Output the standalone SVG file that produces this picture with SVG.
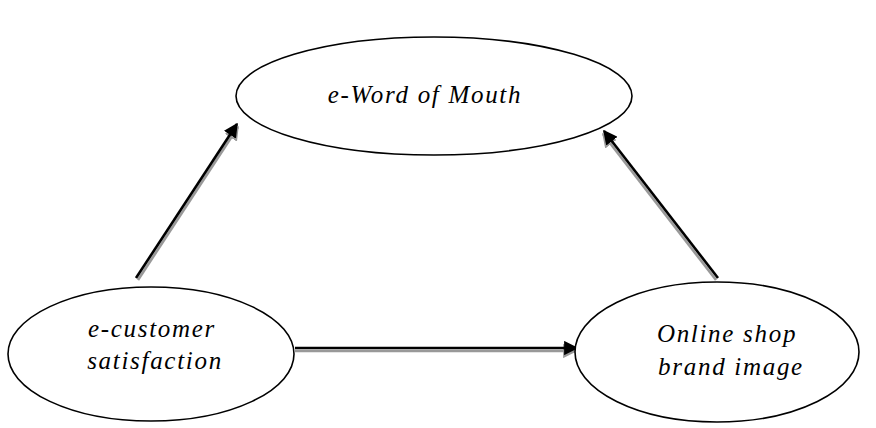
<svg xmlns="http://www.w3.org/2000/svg" width="876" height="428" viewBox="0 0 876 428">
<style>
.node{fill:#fff;stroke:#000;stroke-width:1.6}
.lbl{font-family:"Liberation Serif","Times New Roman",serif;font-style:italic;font-size:25px;letter-spacing:1.7px;fill:#000;text-anchor:middle}
.ln{stroke:#000;stroke-width:2.6;fill:none}
.sh{stroke:#999;stroke-width:2.6;fill:none}
</style>
<defs>
<marker id="ah" viewBox="0 0 10 10" refX="9" refY="5" markerWidth="5.5" markerHeight="5.5" orient="auto" markerUnits="strokeWidth">
<path d="M0,0 L10,5 L0,10 z" fill="#000"/>
</marker>
<marker id="ahs" viewBox="0 0 10 10" refX="9" refY="5" markerWidth="5.5" markerHeight="5.5" orient="auto" markerUnits="strokeWidth">
<path d="M0,0 L10,5 L0,10 z" fill="#999"/>
</marker>
</defs>
<g id="connectors">
<line class="sh" x1="138" y1="280" x2="238" y2="127" marker-end="url(#ahs)"/>
<line class="ln" x1="136" y1="278" x2="237" y2="124" marker-end="url(#ah)"/>
<line class="sh" x1="716" y1="280" x2="603" y2="134" marker-end="url(#ahs)"/>
<line class="ln" x1="718" y1="278" x2="604" y2="131" marker-end="url(#ah)"/>
<line class="sh" x1="295" y1="351" x2="576" y2="351" marker-end="url(#ahs)"/>
<line class="ln" x1="295" y1="348" x2="577" y2="348" marker-end="url(#ah)"/>
</g>
<g id="ewom">
<ellipse class="node" cx="434" cy="96" rx="198" ry="59"/>
<text class="lbl" x="425" y="103">e-Word of Mouth</text>
</g>
<g id="satisfaction">
<ellipse class="node" cx="151" cy="354" rx="143" ry="67"/>
<text class="lbl" x="152" y="337">e-customer</text>
<text class="lbl" x="155" y="369">satisfaction</text>
</g>
<g id="brand">
<ellipse class="node" cx="717" cy="352" rx="142" ry="70"/>
<text class="lbl" x="727" y="342">Online shop</text>
<text class="lbl" x="731" y="375">brand image</text>
</g>
</svg>
